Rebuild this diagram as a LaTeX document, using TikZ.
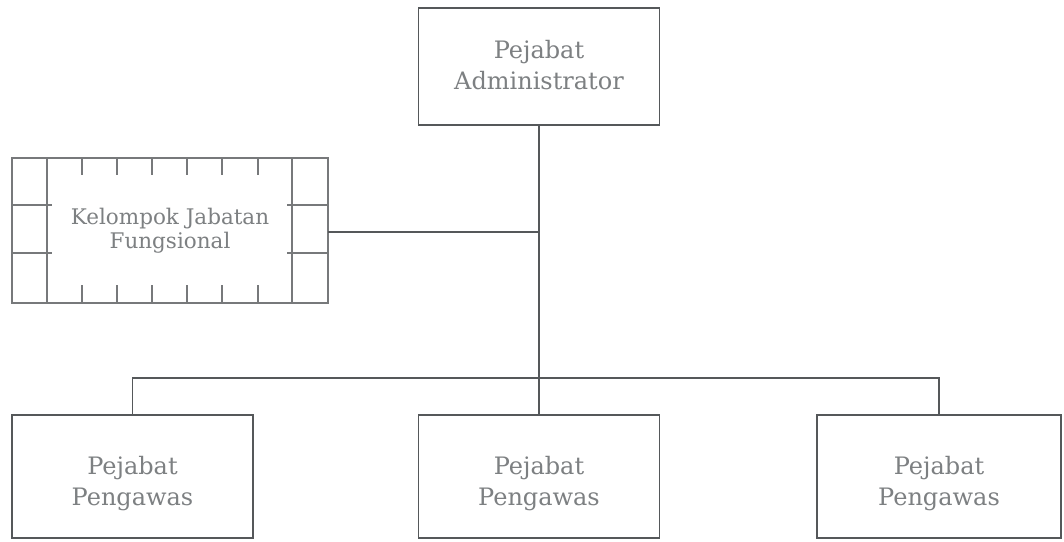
\documentclass[tikz,border=0pt]{standalone}
\usepackage{fontspec}
\setmainfont{DejaVu Serif}
\begin{document}
\definecolor{linegray}{RGB}{85,88,90}
\definecolor{textgray}{RGB}{125,128,130}
\begin{tikzpicture}[x=1pt,y=-1pt,
  every node/.style={inner sep=0pt, outer sep=0pt},
  unit/.style={draw=linegray, line width=1.8pt, fill=white},
  caption/.style={align=center, text=textgray, font=\fontsize{24}{31}\selectfont},
  link/.style={draw=linegray, line width=1.8pt},
  grid/.style={draw=linegray!80, line width=1.3pt}]
\useasboundingbox (0,0) rectangle (1064,541);

% head of unit
\node[unit, minimum width=241pt, minimum height=117pt] (adm) at (539,66.5) {};
\node[caption] (admtext) at ([yshift=1pt]adm.center) {Pejabat\\Administrator};

% functional group with its framed border
\node[unit, draw=linegray!80, line width=1.3pt, minimum width=316pt, minimum height=145pt] (fung) at (170,230.5) {};
\node[caption, font=\fontsize{21.5}{24.5}\selectfont] (fungtext) at (fung.center)
  {Kelompok Jabatan\\Fungsional};
\draw[grid] (47,158) -- (47,303);
\draw[grid] (292,158) -- (292,303);
\foreach \y in {205,253} {
  \draw[grid] (12,\y) -- (52,\y);
  \draw[grid] (287,\y) -- (328,\y);
}
\foreach \x in {82,117,152,187,222,258} {
  \draw[grid] (\x,158) -- (\x,175);
  \draw[grid] (\x,285) -- (\x,303);
}

% supervisors
\node[unit, minimum width=241pt, minimum height=123pt] (pw1) at (132.5,476.5) {};
\node[unit, minimum width=241pt, minimum height=123pt] (pw2) at (539,476.5) {};
\node[unit, minimum width=244pt, minimum height=123pt] (pw3) at (939,476.5) {};
\foreach \n in {pw1,pw2,pw3}
  \node[caption] (\n text) at ([yshift=-7pt]\n.center) {Pejabat\\Pengawas};

% connectors
\coordinate (bus) at (539,378);
\coordinate (mid) at (539,232);
\draw[link] (adm.south) -- (pw2.north);
\draw[link] (fung.east |- mid) -- (mid);
\draw[link] (pw1.north) -- (pw1.north |- bus) -- (pw3.north |- bus) -- (pw3.north);
\end{tikzpicture}
\end{document}
